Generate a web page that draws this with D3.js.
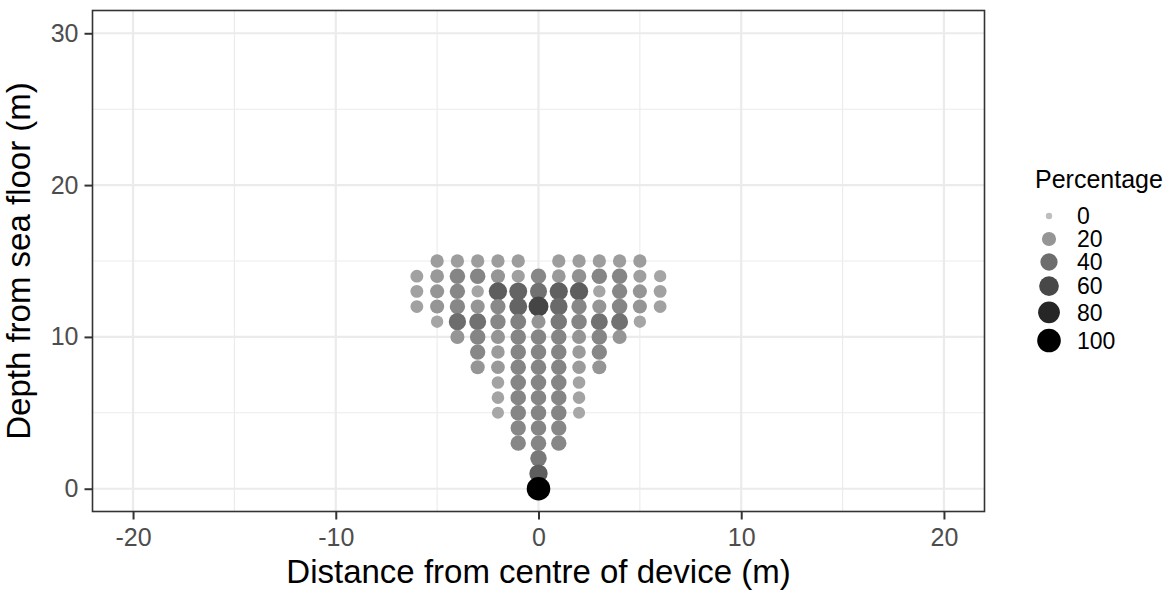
<!DOCTYPE html>
<html>
<head>
<meta charset="utf-8">
<script src="https://cdn.jsdelivr.net/npm/d3@7"></script>
<style>
	body { margin: 0; background: #fff; }
	svg { display: block; font-family: "Liberation Sans", Arial, sans-serif; }
</style>
</head>
<body>
<svg id="chart" width="1173" height="592"></svg>
<script>
// one entry per point: distance (m), depth (m), percentage
var distance = [
	-5,-4,-3,-2,-1, 1,2,3,4,5,
	-6,-5,-4,-3,-2,-1,0,1,2,3,4,5,6,
	-6,-5,-4,-3,-2,-1,0,1,2,3,4,5,6,
	-6,-5,-4,-3,-2,-1,0,1,2,3,4,5,6,
	-5,-4,-3,-2,-1,0,1,2,3,4,5,
	-4,-3,-2,-1,0,1,2,3,4,
	-3,-2,-1,0,1,2,3,
	-3,-2,-1,0,1,2,3,
	-2,-1,0,1,2,
	-2,-1,0,1,2,
	-2,-1,0,1,2,
	-1,0,1,
	-1,0,1,
	0,
	0,
	0
];
var depth = [
	15,15,15,15,15,15,15,15,15,15,
	14,14,14,14,14,14,14,14,14,14,14,14,14,
	13,13,13,13,13,13,13,13,13,13,13,13,13,
	12,12,12,12,12,12,12,12,12,12,12,12,12,
	11,11,11,11,11,11,11,11,11,11,11,
	10,10,10,10,10,10,10,10,10,
	9,9,9,9,9,9,9,
	8,8,8,8,8,8,8,
	7,7,7,7,7,
	6,6,6,6,6,
	5,5,5,5,5,
	4,4,4,
	3,3,3,
	2,
	1,
	0
];
var percentage = [
	16,16,16,16,16,16,16,16,16,16,
	14,18,28,28,20,15,27,18,22,28,28,15,12,
	14,20,27,12,48,45,38,47,48,12,27,20,14,
	14,20,27,20,26,45,62,42,27,20,28,20,14,
	12,40,38,27,30,20,34,28,38,38,12,
	20,28,20,28,28,28,20,28,20,
	27,17,28,28,28,17,27,
	20,18,28,28,28,17,20,
	13,28,28,28,13,
	13,28,28,28,13,
	11,28,28,28,11,
	27,28,27,
	27,28,27,
	34,
	48,
	100
];

var xMajor = [-20, -10, 0, 10, 20],
	xMinor = [-15, -5, 5, 15],
	yMajor = [0, 10, 20, 30],
	yMinor = [5, 15, 25],
	legendBreaks = [0, 20, 40, 60, 80, 100];

var points = distance.map(function(d, i) {
	return {x: d, y: depth[i], p: percentage[i]};
});

var panel = {left: 92.5, right: 984.5, top: 10.5, bottom: 511.5};

var x = d3.scaleLinear().domain([-22, 22]).range([panel.left, panel.right]);
var y = d3.scaleLinear().domain([-1.5, 31.5]).range([panel.bottom, panel.top]);
var radius = d3.scaleSqrt().domain([0, 100]).range([3.2, 11.8]);
var colour = d3.scaleLinear().domain([0, 100]).range(["#bebebe", "#000000"]).interpolate(d3.interpolateLab);

var svg = d3.select("#chart");

// grid
var grid = svg.append("g").attr("class", "grid");
grid.selectAll("line.xminor").data(xMinor).enter().append("line")
	.attr("x1", x).attr("x2", x)
	.attr("y1", panel.top).attr("y2", panel.bottom)
	.attr("stroke", "#ebebeb").attr("stroke-width", 1.1);
grid.selectAll("line.yminor").data(yMinor).enter().append("line")
	.attr("y1", y).attr("y2", y)
	.attr("x1", panel.left).attr("x2", panel.right)
	.attr("stroke", "#ebebeb").attr("stroke-width", 1.1);
grid.selectAll("line.xmajor").data(xMajor).enter().append("line")
	.attr("x1", x).attr("x2", x)
	.attr("y1", panel.top).attr("y2", panel.bottom)
	.attr("stroke", "#ebebeb").attr("stroke-width", 2.2);
grid.selectAll("line.ymajor").data(yMajor).enter().append("line")
	.attr("y1", y).attr("y2", y)
	.attr("x1", panel.left).attr("x2", panel.right)
	.attr("stroke", "#ebebeb").attr("stroke-width", 2.2);

// points
svg.append("g")
	.attr("class", "points")
	.selectAll("circle")
	.data(points)
	.enter().append("circle")
	.attr("cx", function(d) { return x(d.x); })
	.attr("cy", function(d) { return y(d.y); })
	.attr("r", function(d) { return radius(d.p); })
	.attr("fill", function(d) { return colour(d.p); })
;

svg.append("rect")
	.attr("x", panel.left).attr("y", panel.top)
	.attr("width", panel.right - panel.left)
	.attr("height", panel.bottom - panel.top)
	.attr("fill", "none")
	.attr("stroke", "#333333")
	.attr("stroke-width", 1.6);

// axes
var xAxis = svg.append("g")
	.attr("transform", "translate(0," + panel.bottom + ")")
	.call(d3.axisBottom(x).tickValues(xMajor).tickSize(8).tickPadding(9).tickSizeOuter(0));
var yAxis = svg.append("g")
	.attr("transform", "translate(" + panel.left + ",0)")
	.call(d3.axisLeft(y).tickValues(yMajor).tickSize(8).tickPadding(6).tickSizeOuter(0));
[xAxis, yAxis].forEach(function(a) {
	a.select(".domain").remove();
	a.selectAll(".tick line").attr("stroke", "#333333").attr("stroke-width", 2);
	a.selectAll(".tick text")
		.attr("fill", "#4d4d4d")
		.style("font-size", "25px")
		.style("font-family", "'Liberation Sans', Arial, sans-serif");
});
xAxis.selectAll(".tick text").text(function(d) { return d < 0 ? "-" + Math.abs(d) : d; });

svg.append("text")
	.attr("x", (panel.left + panel.right) / 2)
	.attr("y", 583)
	.attr("text-anchor", "middle")
	.style("font-size", "33px")
	.text("Distance from centre of device (m)");
svg.append("text")
	.attr("transform", "translate(30," + (panel.top + panel.bottom) / 2 + ") rotate(-90)")
	.attr("text-anchor", "middle")
	.style("font-size", "33px")
	.text("Depth from sea floor (m)");

// legend
var legend = svg.append("g").attr("class", "legend");
legend.append("text")
	.attr("x", 1035).attr("y", 188)
	.style("font-size", "25px")
	.text("Percentage");
var keyY = 204.5;
legendBreaks.forEach(function(v) {
	var h = Math.max(23, 2 * radius(v) + 5.5);
	var cy = keyY + h / 2;
	legend.append("circle")
		.attr("cx", 1049).attr("cy", cy)
		.attr("r", radius(v))
		.attr("fill", colour(v));
	legend.append("text")
		.attr("x", 1077).attr("y", cy)
		.attr("dy", "0.36em")
		.style("font-size", "23px")
		.text(v);
	keyY += h;
});
</script>
</body>
</html>
